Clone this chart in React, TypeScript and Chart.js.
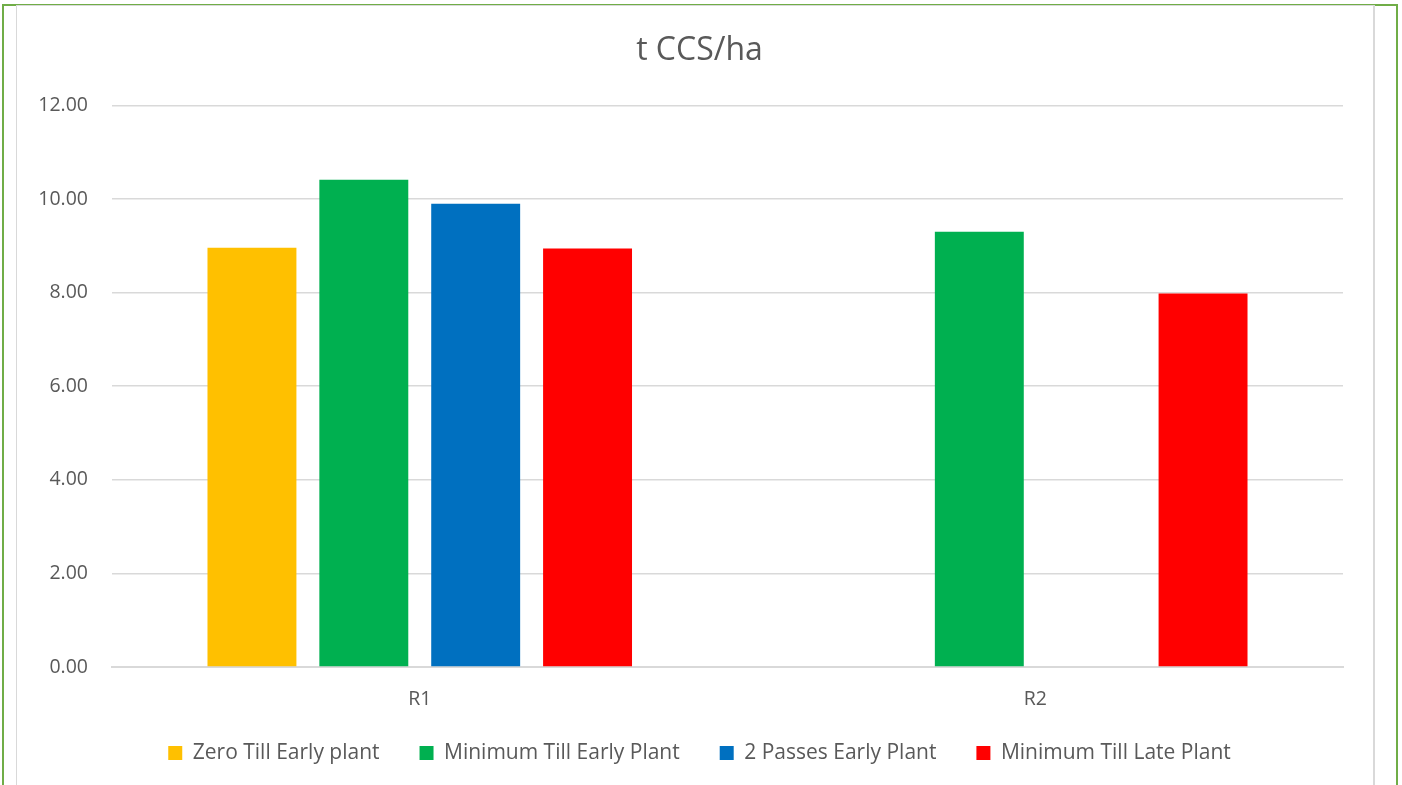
import React, { useEffect, useRef } from "react";
import { Chart, registerables } from "chart.js";

Chart.register(...registerables);

const categories = ["R1", "R2"];
const seriesNames = [
  "Zero Till Early plant",
  "Minimum Till Early Plant",
  "2 Passes Early Plant",
  "Minimum Till Late Plant",
];
const zeroTillEarly = [8.96, null];
const minTillEarly = [10.41, 9.3];
const twoPassesEarly = [9.9, null];
const minTillLate = [8.94, 7.98];
const seriesColors = ["#FFC000", "#00B050", "#0070C0", "#FF0000"];
const yTicks = [0, 2, 4, 6, 8, 10, 12];

const FONT = "'Open Sans', 'Noto Sans', sans-serif";
const TEXT = "#595959";

const legendShift = {
  id: "legendShift",
  afterLayout(chart: any) {
    const lg = chart.legend;
    if (lg) {
      lg.top -= 8.5;
      lg.bottom -= 8.5;
    }
  },
};

export default function App() {
  const ref = useRef<HTMLCanvasElement | null>(null);

  useEffect(() => {
    if (!ref.current) return;
    const values = [zeroTillEarly, minTillEarly, twoPassesEarly, minTillLate];
    const chart = new Chart(ref.current, {
      type: "bar",
      data: {
        labels: categories,
        datasets: values.map((v, i) => ({
          label: seriesNames[i],
          data: v,
          backgroundColor: seriesColors[i],
          borderWidth: 0,
          categoryPercentage: 0.727,
          barPercentage: 0.795,
        })),
      },
      plugins: [legendShift],
      options: {
        animation: false,
        responsive: false,
        maintainAspectRatio: false,
        layout: { padding: { left: 10, right: 0, top: 0, bottom: 3 } },
        plugins: {
          title: {
            display: true,
            text: "t CCS/ha",
            color: TEXT,
            font: { family: FONT, size: 32, weight: "normal" },
            padding: { top: 26, bottom: 35 },
          },
          legend: {
            position: "bottom",
            labels: {
              color: TEXT,
              font: { family: FONT, size: 21 },
              boxWidth: 14,
              boxHeight: 14,
              padding: 40,
            },
          },
          tooltip: { enabled: false },
        },
        scales: {
          x: {
            grid: { display: false, drawTicks: false },
            border: { display: true, color: "#d9d9d9", width: 2 },
            ticks: { color: TEXT, font: { family: FONT, size: 19.5 }, padding: 21 },
            afterFit: (s: any) => {
              s.height = 44;
            },
          },
          y: {
            min: 0,
            max: 12,
            afterBuildTicks: (s: any) => {
              s.ticks = yTicks.map((v) => ({ value: v }));
            },
            grid: { color: "#d9d9d9", lineWidth: 1.5, drawTicks: false },
            border: { display: false },
            ticks: {
              color: TEXT,
              font: { family: FONT, size: 19.5 },
              padding: 24,
              callback: (v: any) => Number(v).toFixed(2),
            },
            afterFit: (s: any) => {
              s.width = 85;
            },
          },
          yRight: {
            position: "right",
            min: 0,
            max: 12,
            grid: { display: false, drawTicks: false },
            border: { display: false },
            ticks: { display: false },
            afterFit: (s: any) => {
              s.width = 29;
            },
          },
        },
      },
    });
    return () => chart.destroy();
  }, []);

  return (
    <div style={{ position: "fixed", left: 0, top: 0, width: 1402, height: 785, background: "#fff", overflow: "hidden" }}>
      <div
        style={{
          position: "absolute",
          left: 2,
          top: 4,
          width: 1392,
          height: 800,
          border: "2px solid #70AD47",
        }}
      />
      <div
        style={{
          position: "absolute",
          left: 16,
          top: 5,
          width: 1356,
          height: 800,
          border: "1px solid #d9d9d9",
          borderRightWidth: 2,
        }}
      />
      <canvas
        ref={ref}
        width={1355}
        height={779}
        style={{ position: "absolute", left: 17, top: 6, width: 1355, height: 779 }}
      />
    </div>
  );
}
